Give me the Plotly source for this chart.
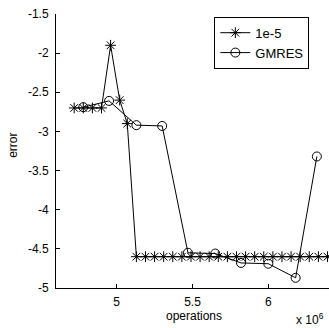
import plotly.graph_objects as go

# x values in units of 1e6 operations
star_x = [4.72, 4.78, 4.84, 4.90, 4.96, 5.02, 5.07, 5.13, 5.19, 5.25, 5.31, 5.37,
          5.43, 5.49, 5.55, 5.61, 5.67, 5.73, 5.79, 5.85, 5.91, 5.97, 6.03, 6.09,
          6.15, 6.21, 6.27, 6.33, 6.39]
star_y = [-2.7, -2.7, -2.7, -2.7, -1.9, -2.6, -2.9] + [-4.6] * 22

gm_x = [4.78, 4.95, 5.13, 5.30, 5.47, 5.65, 5.82, 6.00, 6.18, 6.32]
gm_y = [-2.69, -2.61, -2.92, -2.93, -4.55, -4.56, -4.68, -4.69, -4.87, -3.32]

y_ticks = [-1.5, -2, -2.5, -3, -3.5, -4, -4.5, -5]
y_ticktext = ["-1.5", "-2", "-2.5", "-3", "-3.5", "-4", "-4.5", "-5"]
x_ticks = [5, 5.5, 6]
x_ticktext = ["5", "5.5", "6"]

FONT = "Liberation Sans, Arial, sans-serif"

fig = go.Figure()
fig.add_trace(go.Scatter(
    x=star_x, y=star_y, mode="lines+markers", name="1e-5",
    line=dict(color="black", width=1),
    marker=dict(symbol="asterisk-open", size=9, color="black",
                line=dict(color="black", width=1)),
))
fig.add_trace(go.Scatter(
    x=gm_x, y=gm_y, mode="lines+markers", name="GMRES",
    line=dict(color="black", width=1),
    marker=dict(symbol="circle-open", size=9, color="black",
                line=dict(color="black", width=1)),
))

fig.update_layout(
    width=329, height=328,
    margin=dict(l=56, r=0, t=14, b=40),
    paper_bgcolor="white", plot_bgcolor="white",
    font=dict(family=FONT, size=12, color="black"),
    showlegend=True,
    legend=dict(
        x=0.58, y=0.99, xanchor="left", yanchor="top",
        bordercolor="black", borderwidth=1, bgcolor="white",
        font=dict(family=FONT, size=13, color="black"),
        itemwidth=30, tracegroupgap=0,
    ),
    xaxis=dict(
        range=[4.6, 6.4], tickvals=x_ticks, ticktext=x_ticktext,
        ticks="inside", ticklen=4, tickcolor="black",
        showline=True, linecolor="black", linewidth=1,
        showgrid=False, zeroline=False, mirror=False,
        ticklabelstandoff=3,
    ),
    yaxis=dict(
        range=[-5, -1.5], tickvals=y_ticks, ticktext=y_ticktext,
        ticks="inside", ticklen=4, tickcolor="black",
        showline=True, linecolor="black", linewidth=1,
        showgrid=False, zeroline=False, mirror=False,
        ticklabelstandoff=4,
    ),
    annotations=[
        dict(text="operations", xref="paper", yref="paper", x=0.505, y=-0.07,
             xanchor="center", yanchor="top", showarrow=False,
             font=dict(family=FONT, size=12)),
        dict(text="error", xref="paper", yref="paper", x=-0.16, y=0.52,
             xanchor="center", yanchor="middle", textangle=-90, showarrow=False,
             font=dict(family=FONT, size=12)),
        dict(text="x 10<sup>6</sup>", xref="paper", yref="paper", x=0.99, y=-0.15,
             xanchor="right", yanchor="bottom", showarrow=False,
             font=dict(family=FONT, size=12)),
    ],
)

fig.write_html("out.html")
